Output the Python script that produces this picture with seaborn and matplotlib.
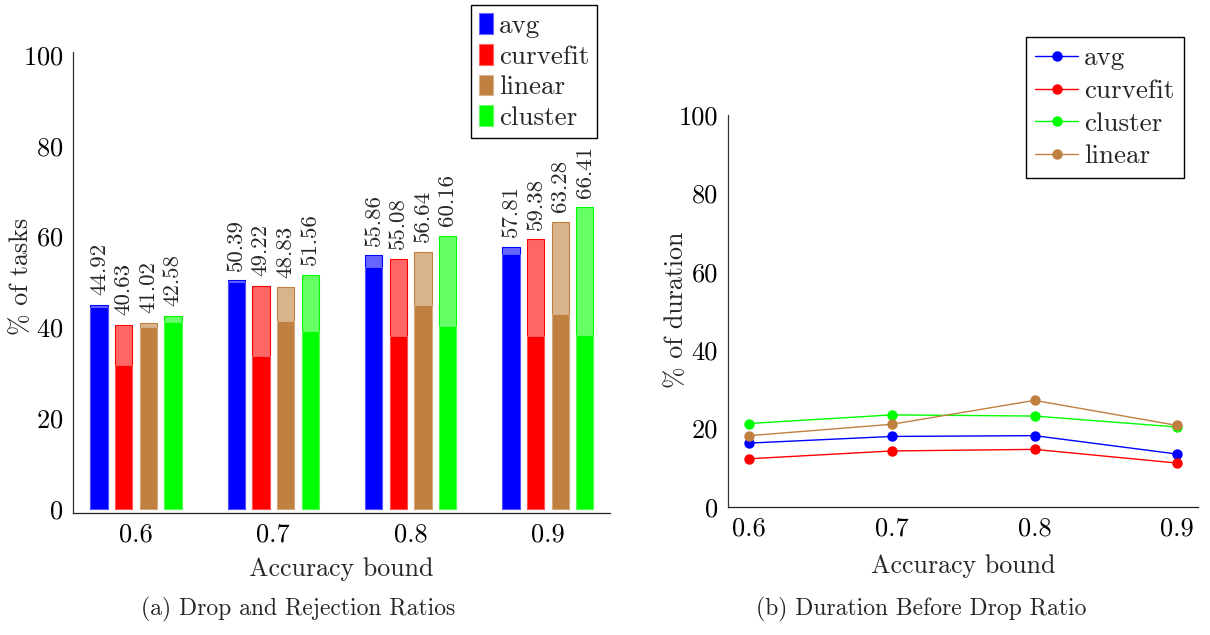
import numpy as np
import pandas as pd
import matplotlib
matplotlib.use("Agg")
import matplotlib.pyplot as plt
import seaborn as sns
from matplotlib.patches import Patch
from matplotlib.lines import Line2D

# ---------------- data ----------------
bounds = ["0.6", "0.7", "0.8", "0.9"]
bar_methods = ["avg", "curvefit", "linear", "cluster"]
total_avg = [44.92, 50.39, 55.86, 57.81]
total_curvefit = [40.63, 49.22, 55.08, 59.38]
total_linear = [41.02, 48.83, 56.64, 63.28]
total_cluster = [42.58, 51.56, 60.16, 66.41]
drop_avg = [44.6, 50.0, 53.3, 56.1]
drop_curvefit = [31.8, 33.8, 38.0, 38.0]
drop_linear = [40.0, 41.5, 45.0, 43.0]
drop_cluster = [41.2, 39.3, 40.4, 38.4]

line_x = [0.6, 0.7, 0.8, 0.9]
line_methods = ["avg", "curvefit", "cluster", "linear"]
dur_avg = [16.3, 18.0, 18.2, 13.5]
dur_curvefit = [12.3, 14.3, 14.7, 11.2]
dur_cluster = [21.3, 23.5, 23.2, 20.4]
dur_linear = [18.2, 21.1, 27.2, 20.8]

solid = {"avg": "#0000ff", "curvefit": "#ff0000", "linear": "#bf8040", "cluster": "#00ff00"}
light = {"avg": "#6666ff", "curvefit": "#ff6666", "linear": "#d9b38c", "cluster": "#66ff66"}

totals = {"avg": total_avg, "curvefit": total_curvefit, "linear": total_linear, "cluster": total_cluster}
drops = {"avg": drop_avg, "curvefit": drop_curvefit, "linear": drop_linear, "cluster": drop_cluster}
durs = {"avg": dur_avg, "curvefit": dur_curvefit, "cluster": dur_cluster, "linear": dur_linear}

rows = []
for m in bar_methods:
    for b, t, d in zip(bounds, totals[m], drops[m]):
        rows.append({"bound": b, "method": m, "total": t, "drop": d})
df = pd.DataFrame(rows)

lrows = []
for m in line_methods:
    for x, v in zip(line_x, durs[m]):
        lrows.append({"bound": x, "method": m, "dur": v})
ldf = pd.DataFrame(lrows)

# ---------------- style ----------------
sns.set_theme(style="white")
plt.rcParams["font.family"] = ["cmr10", "DejaVu Serif"]
plt.rcParams["mathtext.fontset"] = "cm"
plt.rcParams["axes.formatter.use_mathtext"] = True

W, H = 1210, 635
fig = plt.figure(figsize=(W / 100, H / 100), dpi=100)
ax1 = fig.add_axes([73 / W, 1 - 513 / H, 537 / W, 461 / H])
ax2 = fig.add_axes([727.7 / W, 1 - 507 / H, 470.3 / W, 392 / H])

TICK = 19
LEGFS = 19.5
# ---------------- left: bars ----------------
sns.barplot(data=df, x="bound", y="total", hue="method", hue_order=bar_methods,
            order=bounds, palette=light, saturation=1, errorbar=None,
            width=0.717, gap=0.3, linewidth=1, ax=ax1, legend=False)
sns.barplot(data=df, x="bound", y="drop", hue="method", hue_order=bar_methods,
            order=bounds, palette=solid, saturation=1, errorbar=None,
            width=0.717, gap=0.3, linewidth=0, ax=ax1, legend=False)
for i, m in enumerate(bar_methods):
    cont = ax1.containers[i]
    for p in cont:
        p.set_edgecolor(solid[m])
        p.set_linewidth(0.8)
    ax1.bar_label(cont, labels=[f"{v:.2f}" for v in totals[m]], rotation=90,
                  padding=7, fontsize=16.5)
for i, m in enumerate(bar_methods):
    cont = ax1.containers[4 + i]
    for p in cont:
        p.set_edgecolor(light[m])
        p.set_linewidth(0.6)

ax1.set_xlim(-0.459, 3.452)
ax1.set_ylim(-0.88, 100.66)
ax1.set_yticks([0, 20, 40, 60, 80, 100])
ax1.set_xticks(range(4))
ax1.set_xticklabels(bounds)
ax1.set_xlabel("Accuracy bound", fontsize=18.7)
ax1.set_ylabel("% of tasks", fontsize=18.7)
ax1.xaxis.set_label_coords(0.5, -0.097)
ax1.yaxis.set_label_coords(-0.075, 0.514)

leg1_handles = [Patch(facecolor=solid[m], edgecolor=light[m], linewidth=0.8) for m in bar_methods]
fig.legend(leg1_handles, bar_methods, loc="upper right",
           bbox_to_anchor=(597 / W, 1 - 5 / H), bbox_transform=fig.transFigure,
           fontsize=LEGFS, frameon=True, fancybox=False, edgecolor="black",
           framealpha=1, handlelength=0.52, handleheight=0.8, handletextpad=0.2,
           labelspacing=0.22, borderpad=0.3, borderaxespad=0)

# ---------------- right: lines ----------------
for m in line_methods:
    sub = ldf[ldf["method"] == m]
    sns.lineplot(data=sub, x="bound", y="dur", color=solid[m], marker="o",
                 markersize=7.5, markeredgewidth=0, linewidth=1.0, ax=ax2,
                 label=m, legend=False)
ax2.set_xlim(0.585, 0.9145)
ax2.set_ylim(0, 100)
ax2.set_xticks(line_x)
ax2.set_xticklabels(bounds)
ax2.set_yticks([0, 20, 40, 60, 80, 100])
ax2.set_yticklabels(["0", "20", "40", "60", "80", "100"])
ax2.set_xlabel("Accuracy bound", fontsize=18.7)
ax2.set_ylabel("% of duration", fontsize=18.7)
ax2.xaxis.set_label_coords(0.5, -0.12)
ax2.yaxis.set_label_coords(-0.085, 0.503)

leg2_handles = [Line2D([0], [0], color=solid[m], marker="o", markersize=7.5,
                       markeredgewidth=0, linewidth=1.0) for m in line_methods]
fig.legend(leg2_handles, line_methods, loc="upper right",
           bbox_to_anchor=(1184 / W, 1 - 37 / H), bbox_transform=fig.transFigure,
           fontsize=LEGFS, frameon=True, fancybox=False, edgecolor="black",
           framealpha=1, handlelength=1.6, handletextpad=0.22,
           labelspacing=0.32, borderpad=0.35, borderaxespad=0)

for ax in (ax1, ax2):
    sns.despine(ax=ax)
    ax.spines["left"].set_color("#333333")
    ax.spines["bottom"].set_color("#222222")
    ax.spines["left"].set_linewidth(0.9)
    ax.spines["bottom"].set_linewidth(0.9)
    ax.tick_params(axis="both", direction="in", length=6, width=0.8,
                   color="#aaaaaa", labelsize=TICK, pad=7, labelcolor="black")
    ax.grid(False)

fig.text(298 / W, 1 - 609 / H, "(a) Drop and Rejection Ratios", ha="center",
         va="center", fontsize=17)
fig.text(921 / W, 1 - 609 / H, "(b) Duration Before Drop Ratio", ha="center",
         va="center", fontsize=17)

fig.savefig("out.png", dpi=100)
